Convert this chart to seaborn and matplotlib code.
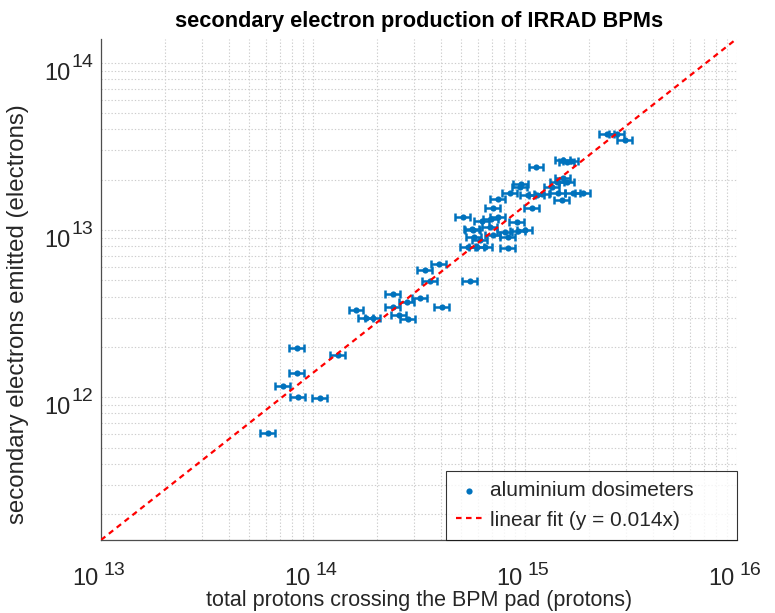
import numpy as np
import matplotlib
matplotlib.use("Agg")
import matplotlib.pyplot as plt
import seaborn as sns

# ---- data (protons, electrons) ----
protons = [6.14e13, 8.40e13, 8.40e13, 7.22e13, 8.49e13, 1.08e14, 1.31e14,
           1.60e14, 1.78e14, 1.92e14, 2.38e14, 2.38e14, 2.55e14, 2.81e14,
           2.77e14, 3.20e14, 4.06e14, 3.38e14, 3.93e14, 3.56e14, 5.50e14,
           5.10e14, 5.62e14, 5.75e14, 5.38e14, 5.94e14, 6.48e14, 6.27e14,
           6.91e14, 7.46e14, 9.17e14, 5.69e14, 6.84e14, 8.05e14, 9.27e14,
           1.00e15, 7.06e14, 8.32e14, 8.32e14, 6.13e14, 7.06e14, 7.46e14,
           8.50e14, 9.58e14, 1.03e15, 1.14e15, 1.08e15, 1.13e15, 1.34e15,
           1.42e15, 1.51e15, 1.58e15, 1.43e15, 1.68e15, 1.88e15, 1.49e15,
           1.51e15, 1.58e15, 1.65e15, 2.44e15, 2.72e15, 2.96e15, 1.20e15,
           9.47e14]
electrons = [6.10e11, 1.96e12, 1.39e12, 1.16e12, 1.01e12, 9.86e11, 1.78e12,
             3.35e12, 2.96e12, 2.96e12, 4.12e12, 3.49e12, 3.09e12, 2.92e12,
             3.74e12, 3.90e12, 3.49e12, 5.81e12, 6.31e12, 4.93e12, 4.93e12,
             1.204e13, 1.02e13, 9.15e12, 7.97e12, 7.97e12, 7.97e12, 1.14e13,
             1.17e13, 1.19e13, 1.12e13, 1.007e13, 1.05e13, 9.80e12, 9.93e12,
             1.007e13, 9.40e12, 9.15e12, 7.86e12, 8.77e12, 1.36e13, 1.54e13,
             1.67e13, 1.90e13, 1.63e13, 1.63e13, 1.36e13, 2.39e13, 1.82e13,
             1.95e13, 2.06e13, 1.95e13, 1.67e13, 1.67e13, 1.67e13, 1.52e13,
             2.63e13, 2.56e13, 2.60e13, 3.77e13, 3.77e13, 3.47e13, 1.65e13,
             1.82e13]
rel_err = 0.08                      # relative horizontal uncertainty
fit_slope = 0.014
fit_x = [1e13, 1e16]
x_decades = [13, 14, 15, 16]
y_decades = [12, 13, 14]

title = "secondary electron production of IRRAD BPMs"
xlabel = "total protons crossing the BPM pad (protons)"
ylabel = "secondary electrons emitted (electrons)"

sns.set_style("white")
plt.rcParams["font.family"] = ["Liberation Sans", "DejaVu Sans"]

df = {"p": np.array(protons), "e": np.array(electrons)}
fit_x = np.array(fit_x)

fig = plt.figure(figsize=(7.75, 6.13), dpi=100)
ax = fig.add_axes([0.1303, 0.1191, 0.8206, 0.818])
ax.set_xscale("log")
ax.set_yscale("log")
ax.set_xlim(1e13, 1e16)
ax.set_ylim(fit_slope * 1e13, fit_slope * 1e16)

blue = "#0072BD"
grid_c = "#cdcdcd"
ax.grid(True, which="both", linestyle=(0, (1.2, 1.8)), color=grid_c, linewidth=0.8)
ax.set_axisbelow(True)

ax.errorbar(df["p"], df["e"], xerr=df["p"] * rel_err, fmt="none",
            ecolor=blue, elinewidth=1.8, capsize=2.6, capthick=1.8, zorder=3)
sns.scatterplot(x=df["p"], y=df["e"], color=blue, s=20, linewidth=0,
                ax=ax, label="aluminium dosimeters", zorder=4)
sns.lineplot(x=fit_x, y=fit_slope * fit_x, color="red", linestyle=(0, (2.5, 2)),
             linewidth=1.6, ax=ax, label="linear fit (y = 0.014x)", zorder=5)

# spines / ticks (MATLAB-like, box off)
for s in ["top", "right"]:
    ax.spines[s].set_visible(False)
for s in ["left", "bottom"]:
    ax.spines[s].set_color("#4d4d4d")
    ax.spines[s].set_linewidth(0.9)
ax.set_xticks([10.0 ** d for d in x_decades])
ax.set_yticks([10.0 ** d for d in y_decades])
ax.tick_params(which="both", direction="in", colors="#4d4d4d",
               labelbottom=False, labelleft=False)
ax.tick_params(which="major", length=5, width=0.9)
ax.tick_params(which="minor", length=2.5, width=0.7)

tcol = "#262626"
for d in x_decades:
    ax.annotate("10", xy=(10.0 ** d, 0), xycoords=("data", "axes fraction"),
                xytext=(-1.5, -32.4), textcoords="offset points", ha="right",
                va="baseline", fontsize=17, color=tcol, annotation_clip=False)
    ax.annotate(str(d), xy=(10.0 ** d, 0), xycoords=("data", "axes fraction"),
                xytext=(1.5, -25), textcoords="offset points", ha="left",
                va="baseline", fontsize=14, color=tcol, annotation_clip=False)
for d in y_decades:
    ax.annotate("10", xy=(0, 10.0 ** d), xycoords=("axes fraction", "data"),
                xytext=(-22, -12.2), textcoords="offset points", ha="right",
                va="baseline", fontsize=17, color=tcol, annotation_clip=False)
    ax.annotate(str(d), xy=(0, 10.0 ** d), xycoords=("axes fraction", "data"),
                xytext=(-21, -3), textcoords="offset points", ha="left",
                va="baseline", fontsize=14, color=tcol, annotation_clip=False)

ax.set_title(title, fontsize=15.7, fontweight="bold", pad=8, color="black")
ax.set_xlabel(xlabel, fontsize=15.5, color=tcol)
ax.xaxis.set_label_coords(0.5, -0.1215)
ax.xaxis.label.set_va("center")
ax.set_ylabel(ylabel, fontsize=17.3, color=tcol)
ax.yaxis.set_label_coords(-0.13, 0.45)
ax.yaxis.label.set_va("center")

leg = ax.legend(loc="lower left", bbox_to_anchor=(0.5425, 0.0, 0.4575, 0.2),
                mode="expand", borderaxespad=0, fontsize=15,
                frameon=True, fancybox=False, edgecolor="black",
                handlelength=1.25, handletextpad=0.35, borderpad=0.5,
                labelspacing=0.5)
leg.get_frame().set_linewidth(0.8)
for t in leg.get_texts():
    t.set_color(tcol)

fig.savefig("out.png", dpi=100)
